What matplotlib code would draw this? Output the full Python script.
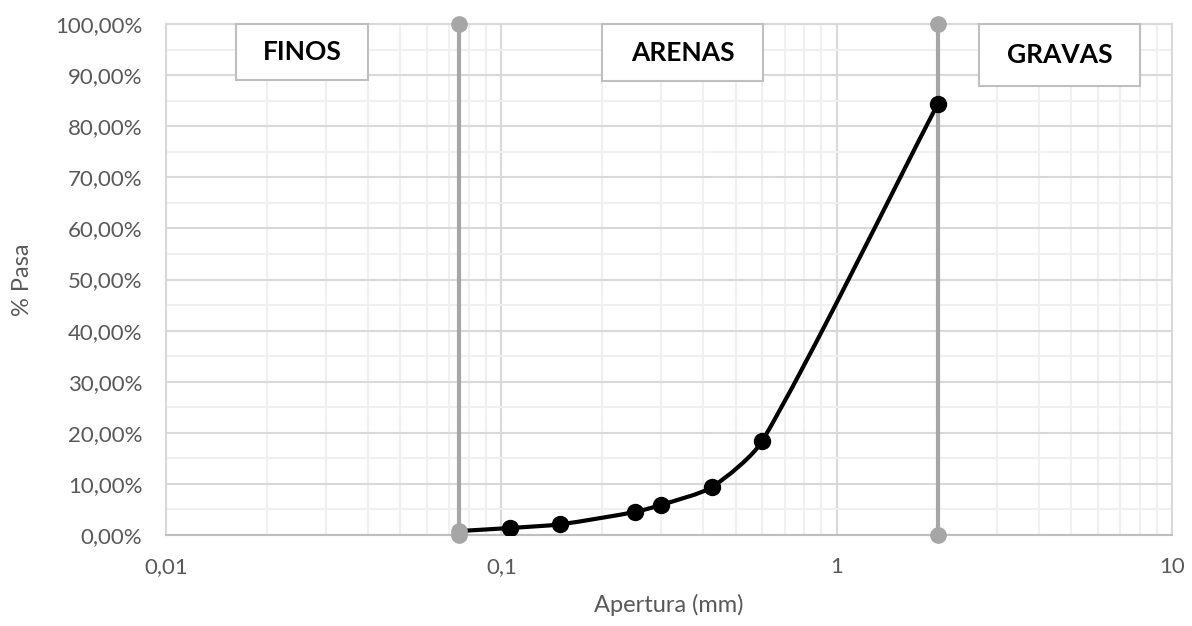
import matplotlib.pyplot as plt
import numpy as np
from matplotlib.path import Path
from matplotlib.patches import PathPatch, Rectangle
from matplotlib.ticker import FixedLocator, FuncFormatter

# tamices: apertura (mm) y % que pasa
apertura = [0.075, 0.106, 0.15, 0.25, 0.3, 0.425, 0.6, 2.0]
pasa = [0.0078, 0.0137, 0.021, 0.045, 0.059, 0.094, 0.184, 0.843]

# limites finos / arenas / gravas
limites = [0.075, 2.0]
limite_y = [0.0, 1.0]

zonas = ["FINOS", "ARENAS", "GRAVAS"]

plt.rcParams["font.family"] = ["Lato", "DejaVu Sans"]

W, H = 1192, 626
fig = plt.figure(figsize=(W / 100, H / 100), dpi=100)
x0, x1, y0, y1 = 166, 1172, 535, 24  # plot area in pixels
ax = fig.add_axes([x0 / W, 1 - y0 / H, (x1 - x0) / W, (y0 - y1) / H])

ax.set_xscale("log")
ax.set_xlim(0.01, 10)
ax.set_ylim(0, 1)

# grid like excel
ax.set_yticks(np.arange(0, 1.01, 0.1))
ax.yaxis.set_minor_locator(FixedLocator(np.arange(0.05, 1.0, 0.1)))
ax.grid(which="major", color="#d9d9d9", lw=1.5)
ax.grid(which="minor", color="#f0f0f0", lw=1.5)
ax.set_axisbelow(True)
ax.tick_params(which="both", length=0)
ax.tick_params(labelsize=16, labelcolor="#595959")
ax.tick_params(axis="x", pad=16)
ax.tick_params(axis="y", pad=17)
for s in ax.spines.values():
    s.set_color("#d9d9d9")
    s.set_linewidth(1.5)
ax.spines["bottom"].set_color("#bfbfbf")

ax.xaxis.set_major_formatter(FuncFormatter(lambda v, p: f"{v:g}".replace(".", ",")))
ax.xaxis.set_minor_formatter(FuncFormatter(lambda v, p: ""))
ax.yaxis.set_major_formatter(FuncFormatter(lambda v, p: f"{v * 100:.2f}%".replace(".", ",")))

ax.set_xlabel("Apertura (mm)", fontsize=17, color="#595959", labelpad=12)
ax.set_ylabel("% Pasa", fontsize=17, color="#595959", labelpad=16)

# lineas limite
for xl in limites:
    ax.plot([xl, xl], limite_y, color="#a6a6a6", lw=3, marker="o", ms=11,
            zorder=3, clip_on=False)

# curva suavizada, calculada en espacio de pixeles (log x)
sx = (x1 - x0) / 3.0
sy = float(y0 - y1)
pts = np.column_stack([np.log10(apertura) * sx, np.array(pasa) * sy])
n = len(pts)
tang = []
for i in range(n):
    d = pts[min(i + 1, n - 1)] - pts[max(i - 1, 0)]
    tang.append(d / np.hypot(*d))
verts = [pts[0]]
codes = [Path.MOVETO]
for i in range(n - 1):
    L = np.hypot(*(pts[i + 1] - pts[i])) / 4
    verts += [pts[i] + tang[i] * L, pts[i + 1] - tang[i + 1] * L, pts[i + 1]]
    codes += [Path.CURVE4] * 3
verts = np.array(verts)
verts[:, 0] = 10 ** (verts[:, 0] / sx)
verts[:, 1] = verts[:, 1] / sy
ax.add_patch(PathPatch(Path(verts, codes), fill=False, color="black", lw=3, zorder=4))
ax.plot(apertura[1:], pasa[1:], "o", color="black", ms=11.5, zorder=5)
ax.plot(apertura[:1], pasa[:1], "o", color="#a6a6a6", ms=11, zorder=6, clip_on=False)

# cajas de texto (pixeles: izq, der, arriba, abajo)
cajas = [(236, 368, 24, 80), (602, 763, 24, 81), (979, 1140, 24, 86)]
for nombre, (l, r, t, b) in zip(zonas, cajas):
    bx = (l - x0) / (x1 - x0)
    by = (y0 - b) / (y0 - y1)
    bw = (r - l) / (x1 - x0)
    bh = (b - t) / (y0 - y1)
    ax.add_patch(Rectangle((bx, by), bw, bh, transform=ax.transAxes, fc="white",
                           ec="#bfbfbf", lw=1.5, zorder=7, clip_on=False))
    ax.text(bx + bw / 2, by + bh / 2, nombre, transform=ax.transAxes, fontsize=19,
            fontweight="bold", ha="center", va="center", zorder=8)

fig.savefig("out.png", dpi=100)
